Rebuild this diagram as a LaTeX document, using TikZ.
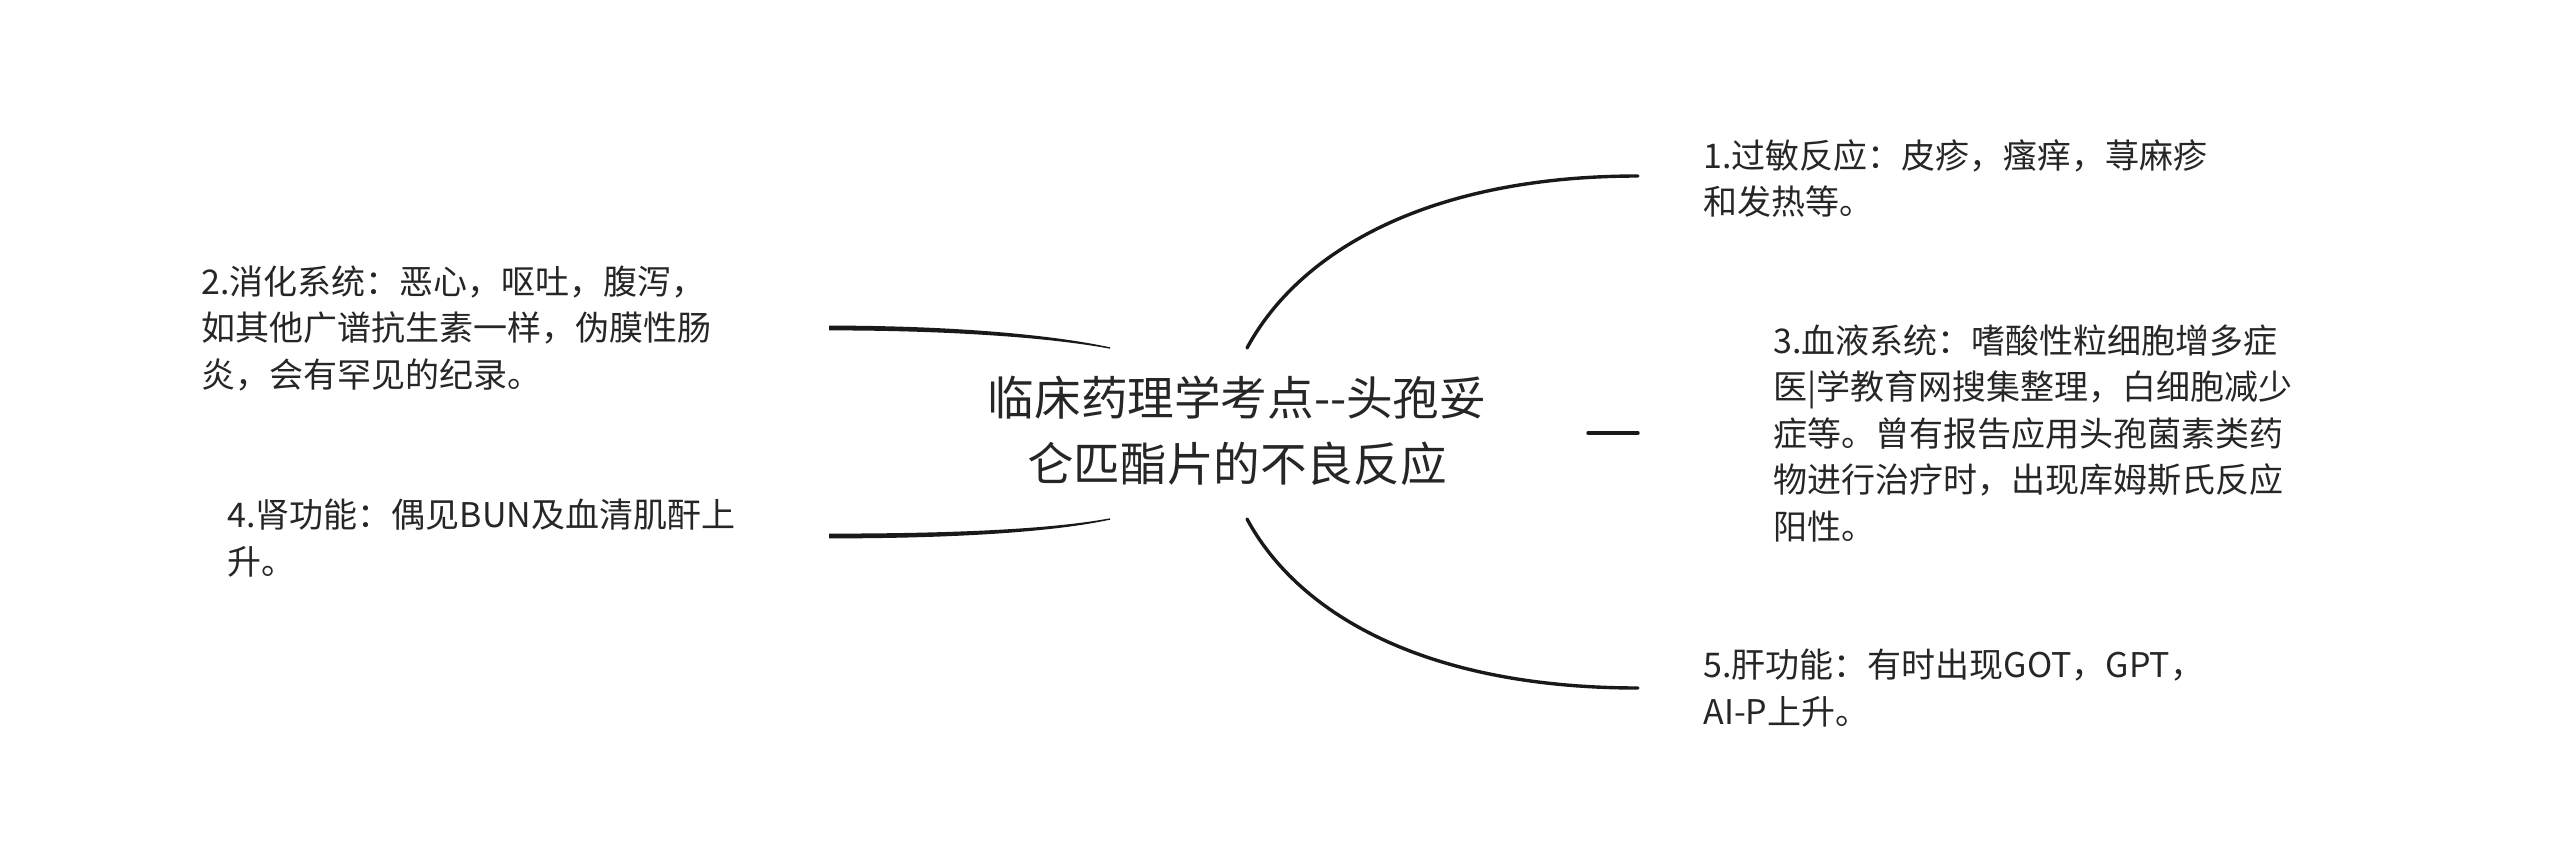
\documentclass[tikz,border=0pt]{standalone}
\usepackage{fontspec}
\setmainfont{Noto Sans CJK SC}
\usetikzlibrary{calc}

\begin{document}
\begin{tikzpicture}[x = 0.5pt, y = -0.5pt,
    root/.style = {align = center, inner sep = 0pt, text = black!85, font = \fontsize{23.3pt}{33pt}\selectfont},
    leaf/.style = {anchor = west, align = left, inner sep = 0pt, text = black!85, font = \fontsize{17pt}{23.25pt}\selectfont},
    branch/.style = {line width = 1.7pt, black!90, line cap = round}]
                \useasboundingbox(0,0)rectangle(2560,867);
                % centre and leaves
                \node[root](R)at(1237,431){临床药理学考点-{}-头孢妥\\仑匹酯片的不良反应};
                \node[leaf](A1)at(1703,178.5){1.过敏反应：皮疹，瘙痒，荨麻疹\\和发热等。};
                \node[leaf](A3)at(1773,433){3.血液系统：嗜酸性粒细胞增多症\\医|学教育网搜集整理，白细胞减少\\症等。曾有报告应用头孢菌素类药\\物进行治疗时，出现库姆斯氏反应\\阳性。};
                \node[leaf](A5)at(1703,688){5.肝功能：有时出现GOT，GPT，\\AI-P上升。};
                \node[leaf](A2)at(201,328){2.消化系统：恶心，呕吐，腹泻，\\如其他广谱抗生素一样，伪膜性肠\\炎，会有罕见的纪录。};
                \node[leaf](A4)at(227,538){4.肾功能：偶见BUN及血清肌酐上\\升。};
                % branch ends
                \coordinate(RU)at(1247,348);
                \coordinate(RD)at(1247,519);
                \coordinate(RM)at(1588,433);
                \coordinate(E1)at(1638,176);
                \coordinate(E3)at(1638,433);
                \coordinate(E5)at(1638,688);
                \coordinate(LU)at(1110,348);
                \coordinate(LD)at(1110,519);
                \coordinate(E2)at(829,328);
                \coordinate(E4)at(829,536);
                % right branches
                \path[draw, branch](RU)..controls($(RU)+(53,-98)$)and($(E1)+(-208,0)$)..(E1);
                \path[draw, branch](RD)..controls($(RD)+(53,98)$)and($(E5)+(-208,0)$)..(E5);
                \path[draw, branch](RM)to(E3);
                % left branches, tapering to the centre
                \path[fill, black!90](E2)++(0,-2.4)..controls(950,325.6)and(1050,334.4)..($(LU)+(0,-0.7)$)
                    --($(LU)+(0,0.7)$)..controls(1050,337.6)and(950,330.4)..($(E2)+(0,2.4)$)--cycle;
                \path[fill, black!90](E4)++(0,2.4)..controls(950,538.4)and(1050,532.6)..($(LD)+(0,0.7)$)
                    --($(LD)+(0,-0.7)$)..controls(1050,529.4)and(950,533.6)..($(E4)+(0,-2.4)$)--cycle;
\end{tikzpicture}
\end{document}
